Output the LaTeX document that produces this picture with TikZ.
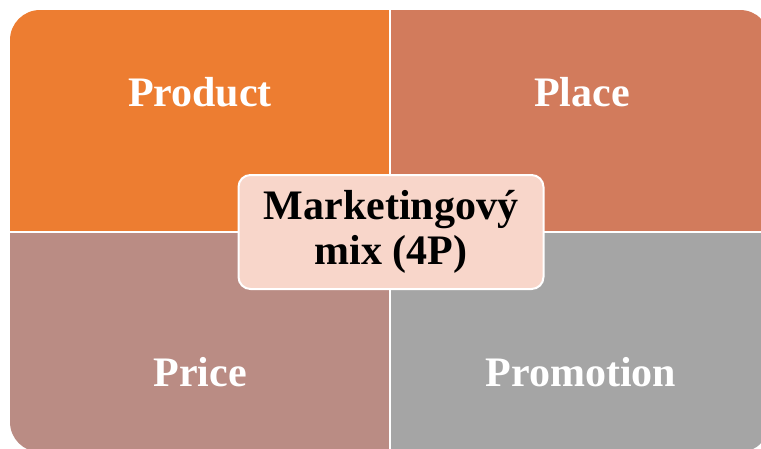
\documentclass[tikz,border=0pt]{standalone}
\usepackage{fontspec}
\setmainfont{Liberation Serif}
\definecolor{prodorange}{HTML}{ED7D31}
\definecolor{placebrown}{HTML}{D27B5C}
\definecolor{pricerose}{HTML}{BA8C84}
\definecolor{promogray}{HTML}{A5A5A5}
\definecolor{mixpink}{HTML}{F8D6CA}
\begin{document}
\begin{tikzpicture}[
      x=1pt, y=-1pt,
      % The four labels of the quadrants:
      every node/.style={font=\fontsize{42}{45}\selectfont\bfseries, text=white, align=center, inner sep=0pt},
      quadfill/.style={draw=none},
      mixbox/.style={draw=white, line width=2pt, fill=mixpink, rounded corners=12pt,
                     text=black, minimum width=305pt, minimum height=114pt}
  ]
  \useasboundingbox (0,0) rectangle (761,448);

  %%%%%%%%%%%%%%%%%%%%%%%%%%%%%%%%%%%%%%%%%%%%%%%%%%%%%%%%
  % The quadrants, clipped to one rounded rectangle
  %%%%%%%%%%%%%%%%%%%%%%%%%%%%%%%%%%%%%%%%%%%%%%%%%%%%%%%%
  \begin{scope}
    \clip[rounded corners=30pt] (10,10) rectangle (770,452);
    \fill[quadfill, prodorange] (10,10)   rectangle (389,231);
    \fill[quadfill, placebrown] (391,10)  rectangle (770,231);
    \fill[quadfill, pricerose]  (10,233)  rectangle (389,452);
    \fill[quadfill, promogray]  (391,233) rectangle (770,452);
  \end{scope}

  % Labels of the quadrants
  \node (product)   at (200,92)  {Product};
  \node (place)     at (582,92)  {Place};
  \node (price)     at (200,372) {Price};
  \node (promotion) at (581,372) {Promotion};

  %%%%%%%%%%%%%%%%%%%%%%%%%%%%%%%%%%%%%%%%%%%%%%%%%%%%%%%%
  % Centre box
  %%%%%%%%%%%%%%%%%%%%%%%%%%%%%%%%%%%%%%%%%%%%%%%%%%%%%%%%
  \node[mixbox] (mix) at (391,232) {Marketingový\\mix (4P)};

\end{tikzpicture}
\end{document}
